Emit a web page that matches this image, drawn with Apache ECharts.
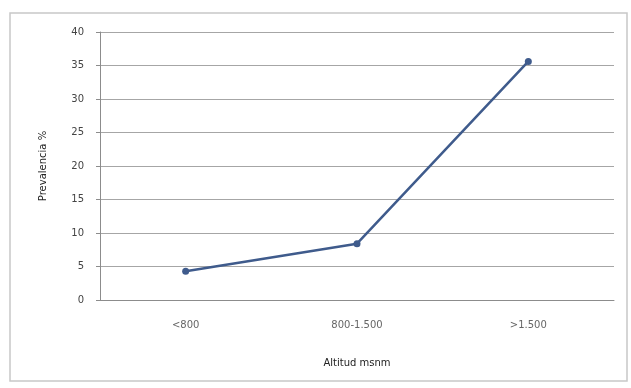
<!DOCTYPE html>
<html>
<head>
<meta charset="utf-8">
<script src="https://cdn.jsdelivr.net/npm/echarts@6/dist/echarts.min.js"></script>
<style>
  html, body { margin: 0; padding: 0; background: #ffffff; }
  #chart { width: 631px; height: 388px; }
</style>
</head>
<body>
<div id="chart"></div>
<script>
// Altitude bands (m a.s.l.)
const categories = ['<800', '800-1.500', '>1.500'];
// Prevalence per band, %
const prevalence = [4.3, 8.4, 35.6];
// Value axis ticks
const yMin = 0, yMax = 40, yStep = 5;

const chart = echarts.init(document.getElementById('chart'), null, { renderer: 'canvas' });

chart.setOption({
  backgroundColor: '#ffffff',
  animation: false,
  graphic: [{
    type: 'rect',
    shape: { x: 10, y: 13, width: 617, height: 368 },
    style: { fill: 'none', stroke: '#c8c8c8', lineWidth: 1.5 },
    silent: true
  }],
  grid: { left: 100, right: 17, top: 32, bottom: 88 },
  xAxis: {
    type: 'category',
    data: categories,
    boundaryGap: true,
    name: 'Altitud msnm',
    nameLocation: 'middle',
    nameGap: 58,
    nameTextStyle: { fontFamily: 'DejaVu Sans', fontSize: 10, color: '#222' },
    axisLine: { show: true, lineStyle: { color: '#8c8c8c', width: 1 } },
    axisTick: { show: false },
    axisLabel: { margin: 20, fontFamily: 'DejaVu Sans', fontSize: 10, color: '#666' },
    splitLine: { show: false }
  },
  yAxis: {
    type: 'value',
    min: yMin, max: yMax, interval: yStep,
    name: 'Prevalencia %',
    nameLocation: 'middle',
    nameGap: 52,
    nameRotate: 90,
    nameTextStyle: { fontFamily: 'DejaVu Sans', fontSize: 10, color: '#222' },
    axisLine: { show: true, lineStyle: { color: '#8c8c8c', width: 1 } },
    axisTick: { show: true, length: 4, inside: false, lineStyle: { color: '#8c8c8c' } },
    axisLabel: { margin: 16, fontFamily: 'DejaVu Sans', fontSize: 10, color: '#444' },
    splitLine: { show: true, lineStyle: { color: '#a6a6a6', width: 1.2 } }
  },
  series: [{
    type: 'line',
    data: prevalence,
    symbol: 'circle',
    symbolSize: 7,
    lineStyle: { color: '#3f5b8c', width: 2.5 },
    itemStyle: { color: '#3f5b8c' },
    z: 5
  }]
});
</script>
</body>
</html>
